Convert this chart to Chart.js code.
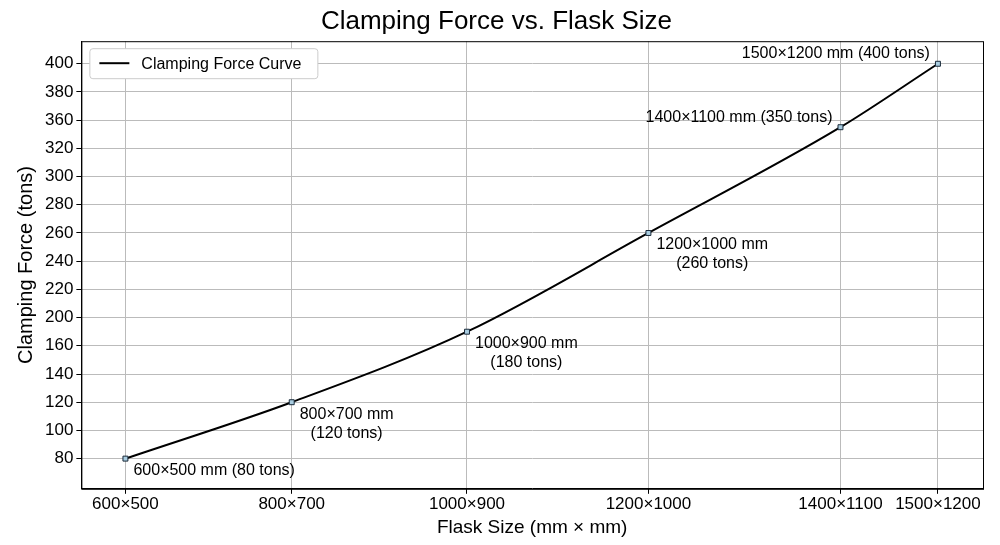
<!DOCTYPE html>
<html><head><meta charset="utf-8">
<script src="https://cdn.jsdelivr.net/npm/chart.js@4"></script>
<style>body{margin:0;background:#fff}#w{width:1000px;height:545px}</style>
</head><body><div id="w"><canvas id="c"></canvas></div>
<script>
const categories = ['600×500','800×700','1000×900','1200×1000','1400×1100','1500×1200'];
const xPositions = [0, 1, 2.054, 3.145, 4.3, 4.886];
const forceValues = [80, 120, 180, 260, 350, 400];
const yTickLabels = [80,100,120,140,160,200,220,240,260,280,300,320,360,380,400];
const pointLabels = [['600×500 mm (80 tons)'],['800×700 mm','(120 tons)'],['1000×900 mm','(180 tons)'],['1200×1000 mm','(260 tons)'],['1400×1100 mm (350 tons)'],['1500×1200 mm (400 tons)']];
function toIdx(v){for(let i=0;i<yTickLabels.length-1;i++){const a=yTickLabels[i],b=yTickLabels[i+1];if(v>=a&&v<=b)return i+(v-a)/(b-a);}return 0;}
const FONT='"Liberation Sans", Arial, sans-serif';
const data = xPositions.map((x,i)=>({x:x,y:toIdx(forceValues[i])}));
const labelPlugin={id:'lbl',afterDatasetsDraw(ch){const ctx=ch.ctx,m=ch.getDatasetMeta(0);ctx.save();ctx.font='16px '+FONT;ctx.fillStyle='#000';
 m.data.forEach((p,i)=>{const L=pointLabels[i];let x=p.x,y=p.y,al='left',dx=8,dy=12;
  if(i>=4){al='right';dx=-8;dy=-10;}
  ctx.textAlign=al;ctx.textBaseline='middle';
  if(L.length==2){const w=Math.max(...L.map(t=>ctx.measureText(t).width));const cx=x+dx+w/2;ctx.textAlign='center';L.forEach((t,k)=>ctx.fillText(t,cx,y+dy+k*19));}
  else ctx.fillText(L[0],x+dx,y+dy);});
 const a=ch.chartArea;ctx.fillStyle='#fff';ctx.strokeStyle='#ccc';ctx.lineWidth=1;const bx=a.left+8,by=a.top+7;ctx.beginPath();ctx.roundRect(bx+.5,by+.5,228,30,3);ctx.fill();ctx.stroke();
 ctx.strokeStyle='#000';ctx.lineWidth=2;ctx.beginPath();ctx.moveTo(bx+10,by+15);ctx.lineTo(bx+40,by+15);ctx.stroke();
 ctx.fillStyle='#000';ctx.textAlign='left';ctx.textBaseline='middle';ctx.fillText('Clamping Force Curve',bx+52,by+16);
 ctx.strokeStyle='#000';ctx.lineWidth=1;ctx.strokeRect(a.left+.5,a.top+.5,a.right-a.left,a.bottom-a.top);ctx.restore();}};
new Chart(document.getElementById('c'),{type:'scatter',
 data:{datasets:[{data:data,showLine:true,borderColor:'#000',borderWidth:2,tension:0.35,cubicInterpolationMode:'monotone',
  pointStyle:'rect',pointRadius:3.5,pointBackgroundColor:'#a8cce0',pointBorderColor:'#1a2a3a',pointBorderWidth:1}]},
 options:{animation:false,responsive:true,maintainAspectRatio:false,layout:{padding:{right:17,top:0,left:10,bottom:6}},
  plugins:{legend:{display:false},tooltip:{enabled:false},title:{display:true,text:'Clamping Force vs. Flask Size',color:'#000',font:{family:FONT,size:26,weight:'normal'},padding:{top:6,bottom:4}}},
  scales:{
   x:{type:'linear',min:-0.265,max:5.157,afterBuildTicks(s){s.ticks=xPositions.map(v=>({value:v}));},
    ticks:{callback:(v,i)=>categories[i],color:'#000',font:{family:FONT,size:17},maxRotation:0,autoSkip:false,padding:0},
    grid:{color:'#bbb',tickColor:'#000',tickLength:5},border:{color:'#000'},
    title:{display:true,text:'Flask Size (mm × mm)',color:'#000',font:{family:FONT,size:19},padding:{top:2,bottom:0}}},
   y:{min:-1.07,max:14.8,afterBuildTicks(s){s.ticks=yTickLabels.map((v,i)=>({value:i}));},
    ticks:{callback:(v,i)=>yTickLabels[i],color:'#000',font:{family:FONT,size:17},autoSkip:false},
    grid:{color:'#bbb',tickColor:'#000',tickLength:5},border:{color:'#000'},
    title:{display:true,text:'Clamping Force (tons)',color:'#000',font:{family:FONT,size:20}}}}},
 plugins:[labelPlugin]});
</script></body></html>
